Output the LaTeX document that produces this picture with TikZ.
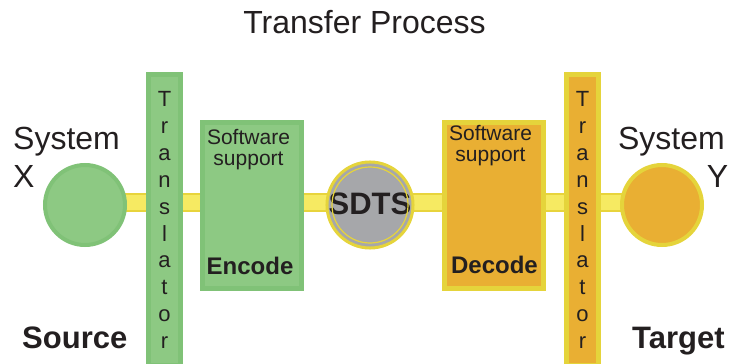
\documentclass[tikz,border=0pt]{standalone}
\usepackage{fontspec}
\setmainfont{Liberation Sans}
\usepackage{xcolor}
\definecolor{TPgreen}{HTML}{8DC983}
\definecolor{TPgreenedge}{HTML}{80C277}
\definecolor{TPbar}{HTML}{F6EA62}
\definecolor{TPbaredge}{HTML}{E8D43C}
\definecolor{TPorange}{HTML}{E9AF33}
\definecolor{TPyellowedge}{HTML}{E5D43B}
\definecolor{TPgray}{HTML}{A6A7AA}
\definecolor{TPtext}{HTML}{231F20}
\usetikzlibrary{positioning, backgrounds}

\begin{document}
\begin{tikzpicture}[x=1pt, y=-1pt, every node/.style={text=TPtext, inner sep=0pt}]
% ============================================================
%  Transfer process: source system -> SDTS -> target system
% ============================================================

\tikzset{
  sysdot/.style={circle, line width=4pt, minimum size=80pt},
  transbar/.style={rectangle, line width=5pt, minimum width=32pt,
    minimum height=291pt, align=center, font=\fontsize{22}{26.9}\selectfont},
  codebox/.style={rectangle, line width=5pt, minimum width=99pt, minimum height=166pt},
  supportlbl/.style={anchor=north, align=center, font=\fontsize{21}{21}\selectfont},
  codelbl/.style={anchor=base, font=\fontsize{24}{24}\selectfont\bfseries},
  sidelbl/.style={font=\fontsize{32}{38}\selectfont},
  rolelbl/.style={anchor=base west, font=\fontsize{31}{31}\selectfont\bfseries},
  bar/.style={draw=TPbaredge, line width=2pt, double=TPbar, double distance=15pt},
}

  \useasboundingbox (0,0) rectangle (729,364);

  % ── Title ─────────────────────────────────────────────────
  \node[anchor=base, font=\fontsize{32}{32}\selectfont] (title) at (364.5,33) {Transfer Process};

  % ── Source side ───────────────────────────────────────────
  \node[sysdot, fill=TPgreen, draw=TPgreenedge] (srcsys) at (85,205) {};
  \node[transbar, fill=TPgreen, draw=TPgreenedge] (trsrc) at (164.5,220)
    {T\\r\\a\\n\\s\\l\\a\\t\\o\\r};
  \node[codebox, fill=TPgreen, draw=TPgreenedge] (enc) at (252,205.5) {};
  \node[supportlbl] (encsup) at ([xshift=-3.5pt, yshift=-9.2pt]enc.north) {Software\\support};
  \node[codelbl] (enclbl) at ([xshift=-2pt, yshift=16.5pt]enc.south) {Encode};

  % ── SDTS ──────────────────────────────────────────────────
  \node[circle, fill=TPgray, draw=TPyellowedge, line width=3pt, minimum size=83pt,
    font=\fontsize{31}{31}\selectfont\bfseries] (sdts) at (370,205) {\raisebox{2.5pt}{SDTS}};
  \draw[TPyellowedge, line width=1.2pt] (sdts.center) circle (38);

  % ── Target side ───────────────────────────────────────────
  \node[codebox, fill=TPorange, draw=TPyellowedge] (dec) at (494,205.5) {};
  \node[supportlbl] (decsup) at ([xshift=-3.5pt, yshift=-5.2pt]dec.north) {Software\\support};
  \node[codelbl] (declbl) at ([xshift=0.5pt, yshift=17.5pt]dec.south) {Decode};
  \node[transbar, fill=TPorange, draw=TPyellowedge] (trtgt) at (582.5,220)
    {T\\r\\a\\n\\s\\l\\a\\t\\o\\r};
  \node[sysdot, fill=TPorange, draw=TPyellowedge] (tgtsys) at (662,205) {};

  % ── Labels ────────────────────────────────────────────────
  \node[sidelbl, align=left, anchor=base west] (srcname) at (13,187) {System\\X};
  \node[sidelbl, align=right, anchor=base east] (tgtname) at (728.5,187) {System\hspace*{3.5pt}\\Y};
  \node[rolelbl] (srcrole) at (22,348) {Source};
  \node[rolelbl] (tgtrole) at (632,348) {Target};

  % ── Transfer bar ──────────────────────────────────────────
  \begin{pgfonlayer}{background}
    \draw[bar] ([yshift=2.5pt]srcsys.center) -- ([yshift=2.5pt]tgtsys.center);
  \end{pgfonlayer}

\end{tikzpicture}
\end{document}
